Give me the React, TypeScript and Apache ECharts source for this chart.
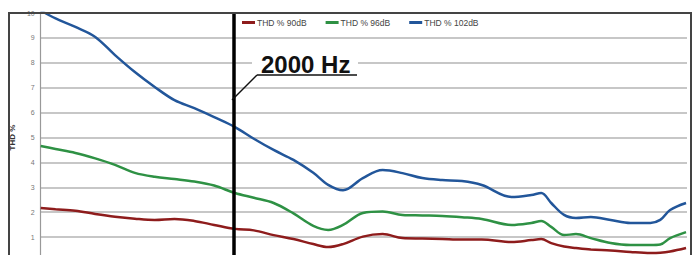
import React, { useEffect, useRef } from "react";
import * as echarts from "echarts";

// relative horizontal position (0..100 % of the frequency span)
const xPos = [0, 2.3, 5.37, 8.44, 11.5, 14.57, 17.64, 20.7, 23.77, 26.84, 30.06, 32.98, 36.04, 39.11, 42.18, 44.48, 46.78, 49.85, 52.91, 55.98, 59.05, 62.12, 65.18, 68.25, 72.85, 75.92, 77.45, 78.99, 80.98, 82.82, 85.12, 88.19, 91.26, 94.33, 95.86, 97.39, 99.85];

const thd90 = [2.17, 2.12, 2.06, 1.93, 1.82, 1.74, 1.69, 1.73, 1.65, 1.49, 1.33, 1.27, 1.08, 0.92, 0.72, 0.6, 0.72, 1.02, 1.12, 0.96, 0.94, 0.92, 0.9, 0.9, 0.8, 0.88, 0.92, 0.76, 0.62, 0.56, 0.5, 0.46, 0.4, 0.36, 0.37, 0.42, 0.56];
const thd96 = [4.66, 4.54, 4.38, 4.16, 3.9, 3.58, 3.42, 3.33, 3.23, 3.07, 2.77, 2.58, 2.37, 1.95, 1.45, 1.29, 1.49, 1.97, 2.03, 1.89, 1.87, 1.85, 1.8, 1.73, 1.49, 1.57, 1.65, 1.41, 1.08, 1.12, 0.96, 0.76, 0.68, 0.68, 0.7, 0.96, 1.2];
const thd102 = [10.1, 9.78, 9.44, 9.04, 8.31, 7.63, 7.03, 6.5, 6.18, 5.82, 5.42, 4.95, 4.5, 4.1, 3.58, 3.1, 2.88, 3.37, 3.69, 3.57, 3.37, 3.29, 3.25, 3.09, 2.61, 2.69, 2.77, 2.37, 1.89, 1.77, 1.81, 1.69, 1.57, 1.57, 1.69, 2.09, 2.37];

const seriesNames = ["THD % 90dB", "THD % 96dB", "THD % 102dB"];
const seriesColors = ["#8e1c1c", "#2e9144", "#22569a"];
const markerPos = 29.8; // 2000 Hz
const markerLabel = "2000 Hz";
const yTicks = [0, 10, 1];

export default function App() {
  const ref = useRef<HTMLDivElement>(null);
  useEffect(() => {
    if (!ref.current) return;
    const chart = echarts.init(ref.current, null, { renderer: "svg" });
    const datasets = [thd90, thd96, thd102];
    const font = "'Liberation Sans', Arial, sans-serif";
    chart.setOption({
      animation: false,
      backgroundColor: "#ffffff",
      grid: { left: 35, top: 13, width: 652, height: 249 },
      legend: {
        left: 242,
        top: 18,
        padding: 0,
        itemWidth: 13,
        itemHeight: 3,
        itemGap: 19,
        icon: "rect",
        textStyle: { fontSize: 8.5, color: "#444", fontFamily: font, padding: [0, 0, 0, -3] },
        data: seriesNames,
      },
      xAxis: {
        type: "value",
        min: 0,
        max: 100,
        show: true,
        axisLine: { show: false },
        axisTick: { show: false },
        axisLabel: { show: false },
        splitLine: { show: false },
      },
      yAxis: {
        type: "value",
        min: yTicks[0],
        max: yTicks[1],
        interval: yTicks[2],
        name: "THD %",
        nameLocation: "middle",
        nameGap: 18,
        nameTextStyle: { fontSize: 8, fontWeight: "bold", color: "#333", fontFamily: font },
        axisLine: { show: true, lineStyle: { color: "#999", width: 1.2 } },
        axisTick: { show: false },
        axisLabel: { fontSize: 7, color: "#777", fontFamily: font, margin: 6 },
        splitLine: { lineStyle: { color: "#b4b4b4", width: 1.5 } },
      },
      series: datasets.map((d, i) => ({
        name: seriesNames[i],
        type: "line",
        smooth: 0.35,
        showSymbol: false,
        symbol: "none",
        lineStyle: { color: seriesColors[i], width: 2.5 },
        itemStyle: { color: seriesColors[i] },
        data: d.map((v, j) => [xPos[j], v]),
        z: 3,
        markLine:
          i === 0
            ? {
                silent: true,
                symbol: "none",
                label: { show: false },
                lineStyle: { color: "#000", width: 3.5, type: "solid" },
                data: [{ xAxis: markerPos }],
                z: 5,
              }
            : undefined,
      })),
      graphic: [
        {
          type: "rect",
          shape: { x: 252, y: 52, width: 106, height: 21 },
          style: { fill: "#fff" },
          z: 11,
        },
        {
          type: "text",
          x: 261,
          y: 52,
          style: {
            text: markerLabel,
            fill: "#111",
            font: "bold 24px 'Liberation Sans', Arial, sans-serif",
          },
          z: 12,
        },
        {
          type: "line",
          shape: { x1: 257, y1: 75, x2: 357, y2: 75 },
          style: { stroke: "#111", lineWidth: 1.5 },
          z: 12,
        },
        {
          type: "line",
          shape: { x1: 257, y1: 75, x2: 232, y2: 100 },
          style: { stroke: "#111", lineWidth: 1.5 },
          z: 12,
        },
      ],
    });
    return () => chart.dispose();
  }, []);
  return (
    <div
      style={{ position: "absolute", left: 0, top: 0, width: 697, height: 255, overflow: "hidden", background: "#fff" }}
    >
      <div ref={ref} style={{ width: 697, height: 275 }} />
      <div
        style={{
          position: "absolute",
          left: 8,
          top: 12,
          width: 680,
          height: 300,
          borderLeft: "2px solid #444",
          borderTop: "2px solid #444",
          borderRight: "2px solid #444",
          boxSizing: "content-box",
          pointerEvents: "none",
          zIndex: 5,
        }}
      />
    </div>
  );
}
